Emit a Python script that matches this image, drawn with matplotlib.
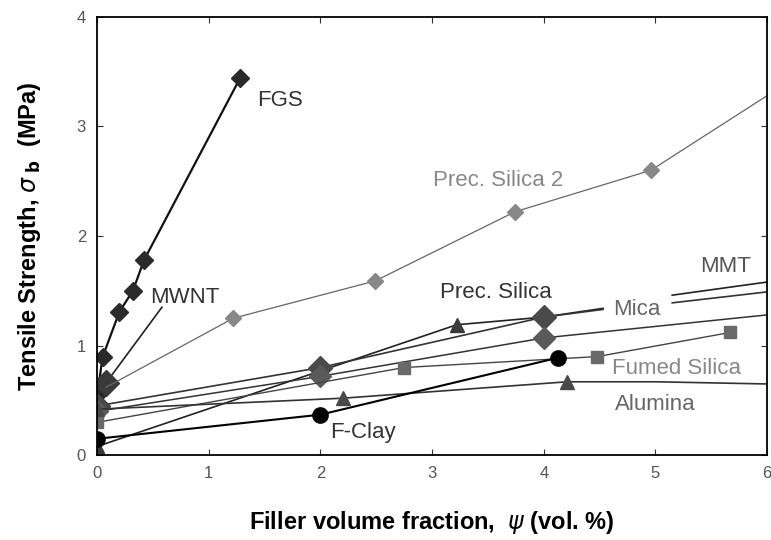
import matplotlib.pyplot as plt
import numpy as np

# === Data ===
nan = np.nan
fgs_x = [0.0, 0.05, 0.2, 0.32, 0.42, 1.28]
fgs_y = [0.55, 0.9, 1.31, 1.5, 1.78, 3.44]

mwnt_x = [0.0, 0.08, 0.58]
mwnt_y = [0.45, 0.66, 1.35]

ps2_x = [0.08, 1.22, 2.49, 3.74, 4.96, 6.0]
ps2_y = [0.62, 1.25, 1.59, 2.22, 2.60, 3.28]

ps_x = [0.0, 3.22, 4.0, 4.53, nan, 5.15, 6.0]
ps_y = [0.08, 1.19, 1.26, 1.34, nan, 1.46, 1.58]

mica_x = [0.0, 2.0, 4.0, 4.53, nan, 5.15, 6.0]
mica_y = [0.45, 0.80, 1.26, 1.33, nan, 1.39, 1.49]

mmt_x = [0.0, 2.0, 4.0, 6.0]
mmt_y = [0.40, 0.72, 1.07, 1.28]

fumed_x = [0.0, 2.75, 4.48, 5.67]
fumed_y = [0.30, 0.80, 0.90, 1.12]

alumina_x = [0.0, 2.2, 4.21, 5.0, 6.0]
alumina_y = [0.42, 0.52, 0.67, 0.67, 0.65]

fclay_x = [0.0, 2.0, 4.13]
fclay_y = [0.15, 0.37, 0.89]

labels = ["FGS", "MWNT", "Prec. Silica 2", "Prec. Silica", "Mica", "MMT",
          "Fumed Silica", "Alumina", "F-Clay"]
label_x = [1.43, 0.47, 3.01, 3.07, 4.62, 5.40, 4.61, 4.64, 2.09]
label_y = [3.24, 1.44, 2.51, 1.48, 1.33, 1.72, 0.79, 0.46, 0.21]
label_c = ["#333333", "#333333", "#888888", "#333333", "#666666", "#555555",
           "#888888", "#666666", "#333333"]

plt.rcParams["font.family"] = ["Liberation Sans", "DejaVu Sans"]

# === Plot ===
fig = plt.figure(figsize=(7.71, 5.40), dpi=100)
ax = fig.add_axes([0.126, 0.157, 0.869, 0.812])

ax.plot(fgs_x, fgs_y, color="#111111", lw=1.6, marker="D", ms=9,
        mfc="#2a2a2a", mec="#2a2a2a")
ax.plot(mwnt_x, mwnt_y, color="#222222", lw=1.2, marker="D", ms=13,
        mfc="#3a3a3a", mec="#3a3a3a", markevery=[0, 1])
ax.plot(ps2_x, ps2_y, color="#666666", lw=0.9, marker="D", ms=8,
        mfc="#888888", mec="#888888", markevery=[1, 2, 3, 4])
ax.plot(ps_x, ps_y, color="#222222", lw=1.2, marker="^", ms=10,
        mfc="#3a3a3a", mec="#3a3a3a", markevery=[0, 1])
ax.plot(mica_x, mica_y, color="#333333", lw=1.2, marker="D", ms=12,
        mfc="#4a4a4a", mec="#4a4a4a", markevery=[0, 1, 2])
ax.plot(mmt_x, mmt_y, color="#333333", lw=1.1, marker="D", ms=11,
        mfc="#5a5a5a", mec="#5a5a5a", markevery=[0, 1, 2])
ax.plot(fumed_x, fumed_y, color="#444444", lw=1.0, marker="s", ms=9,
        mfc="#6a6a6a", mec="#6a6a6a")
ax.plot(alumina_x, alumina_y, color="#333333", lw=1.2, marker="^", ms=10,
        mfc="#4a4a4a", mec="#4a4a4a", markevery=[0, 1, 2])
ax.plot(fclay_x, fclay_y, color="#000000", lw=1.5, marker="o", ms=11,
        mfc="#000000", mec="#000000")

for t, x, y, c in zip(labels, label_x, label_y, label_c):
    ax.text(x, y, t, color=c, fontsize=16, ha="left", va="center")

ax.set_xlim(0, 6)
ax.set_ylim(0, 4)
ax.set_xticks(range(0, 7))
ax.set_yticks(range(0, 5))
ax.tick_params(direction="in", top=True, right=True, labelsize=12,
               labelcolor="#555555", color="#333333", length=4, pad=8)
for s in ax.spines.values():
    s.set_linewidth(1.3)
    s.set_linestyle((0, (1, 1)))

ax.set_xlabel("Filler volume fraction,  $\\psi$ (vol. %)", fontsize=17,
              fontweight="bold", labelpad=20)
ax.set_ylabel("Tensile Strength, $\\sigma_{\\,\\,\\mathbf{b}}$  (MPa)", fontsize=17,
              fontweight="bold", labelpad=24)

plt.savefig("out.png", dpi=100)
